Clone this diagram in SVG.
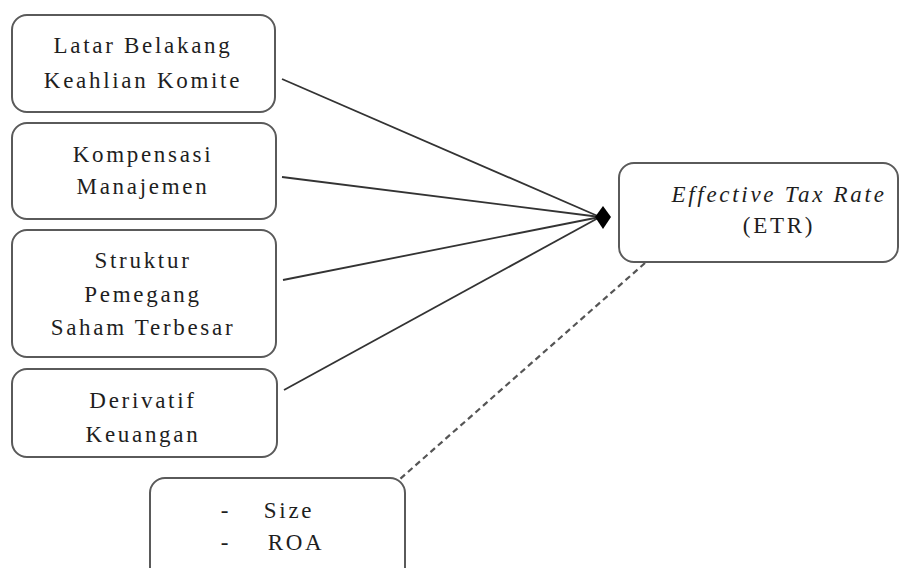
<svg xmlns="http://www.w3.org/2000/svg" width="900" height="568" viewBox="0 0 900 568">
<style>
.box{fill:#fff;stroke:#5a5a5a;stroke-width:2}
text{font-family:'Liberation Serif','Times New Roman',serif;font-size:23px;letter-spacing:2.7px;fill:#1e1e1e;text-anchor:middle}
.i{font-style:italic}
.ln{stroke:#333;stroke-width:1.8;fill:none}
.dash{stroke:#555;stroke-width:2.2;stroke-dasharray:6,4;fill:none}
</style>
<rect width="900" height="568" fill="#fff"/>
<g id="connectors">
<line class="ln" x1="282" y1="79" x2="600" y2="217"/>
<line class="ln" x1="282" y1="177" x2="600" y2="217"/>
<line class="ln" x1="283" y1="280" x2="600" y2="217"/>
<line class="ln" x1="284" y1="390" x2="600" y2="217"/>
<polygon points="595,217 603,206 611,217 603,229" fill="#000"/>
<line class="dash" x1="645" y1="263" x2="400" y2="479"/>
</g>
<g id="n1">
<rect class="box" x="12" y="15" width="263" height="97" rx="15"/>
<text x="143" y="53">Latar Belakang</text>
<text x="143" y="88">Keahlian  Komite</text>
</g>
<g id="n2">
<rect class="box" x="12" y="123" width="264" height="96" rx="15"/>
<text x="143" y="162">Kompensasi</text>
<text x="143" y="194">Manajemen</text>
</g>
<g id="n3">
<rect class="box" x="12" y="230" width="264" height="127" rx="15"/>
<text x="143" y="268">Struktur</text>
<text x="143" y="302">Pemegang</text>
<text x="143" y="335">Saham Terbesar</text>
</g>
<g id="n4">
<rect class="box" x="12" y="369" width="265" height="88" rx="15"/>
<text x="143" y="408">Derivatif</text>
<text x="143" y="442">Keuangan</text>
</g>
<g id="n5">
<rect class="box" x="150" y="478" width="255" height="110" rx="15"/>
<text x="226" y="518">-</text>
<text x="289" y="518">Size</text>
<text x="226" y="550">-</text>
<text x="296" y="550">ROA</text>
</g>
<g id="n6">
<rect class="box" x="619" y="163" width="279" height="99" rx="15"/>
<text class="i" x="779" y="202">Effective Tax Rate</text>
<text x="779" y="233">(ETR)</text>
</g>
</svg>
